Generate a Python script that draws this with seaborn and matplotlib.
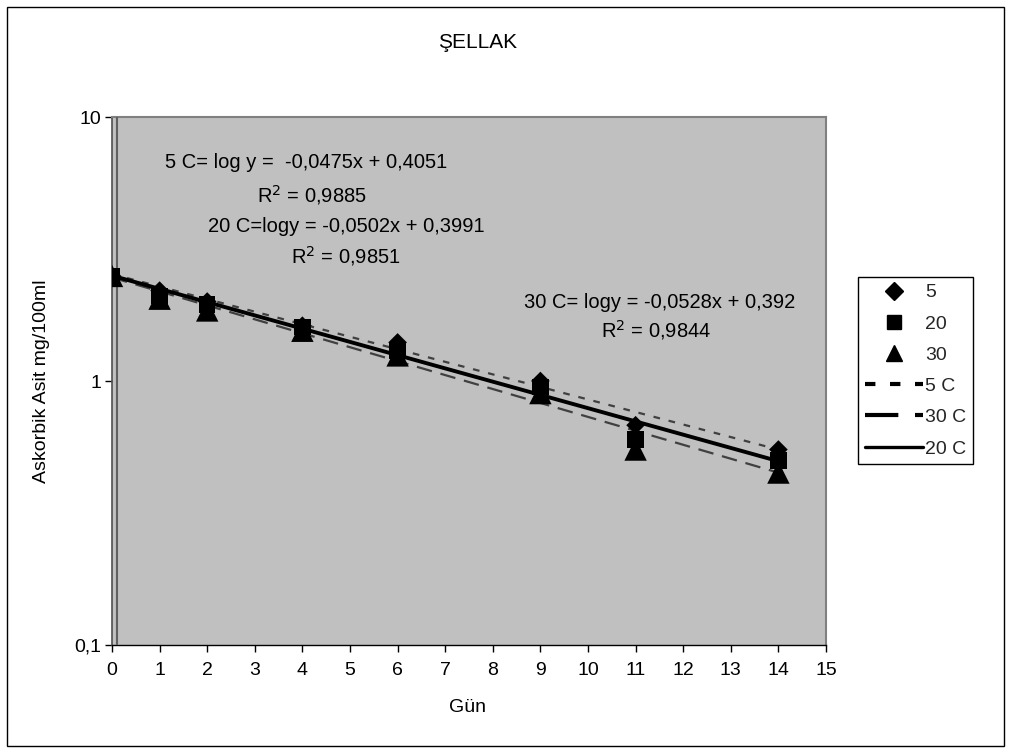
import numpy as np
import pandas as pd
import matplotlib
matplotlib.use("Agg")
import matplotlib.pyplot as plt
from matplotlib.patches import Rectangle
from matplotlib.lines import Line2D
from matplotlib.ticker import FixedLocator, FixedFormatter, NullLocator
import seaborn as sns

# ---- data ----
days = [0, 1, 2, 4, 6, 9, 11, 14]
s5 = [2.5, 2.2, 2.0, 1.62, 1.4, 1.0, 0.68, 0.55]
s20 = [2.5, 2.1, 1.95, 1.6, 1.3, 0.95, 0.60, 0.50]
s30 = [2.5, 2.05, 1.85, 1.55, 1.25, 0.9, 0.55, 0.45]
series_names = ["5", "20", "30"]
trend_names = ["5 C", "20 C", "30 C"]
trend_slope = [-0.0475, -0.0502, -0.0528]
trend_icpt = [0.4051, 0.3991, 0.392]
trend_r2 = ["0,9885", "0,9851", "0,9844"]
x_ticks = list(range(0, 16))
y_ticks = [0.1, 1, 10]
y_ticklabels = ["0,1", "1", "10"]

sns.set_theme(style="white")
plt.rcParams["font.family"] = ["Liberation Sans", "DejaVu Sans"]

FS = 14
fig = plt.figure(figsize=(10.12, 7.55), dpi=100)
W, H = 1012, 755
ax = fig.add_axes([112 / W, 1 - 645 / H, (826 - 112) / W, (645 - 117) / H])
ax.set_facecolor("#C0C0C0")

pts = pd.DataFrame({
    "Gün": days * 3,
    "val": s5 + s20 + s30,
    "seri": sum([[n] * len(days) for n in series_names], []),
})

# trendlines
xs = np.array([0, 14])
rows = []
for n, m, b in zip(trend_names, trend_slope, trend_icpt):
    for x in xs:
        rows.append({"Gün": x, "val": 10 ** (b + m * x), "seri": n})
tr = pd.DataFrame(rows)

sns.lineplot(data=tr[tr.seri == "5 C"], x="Gün", y="val", ax=ax, color="#404040",
             lw=1.6, legend=False).lines[-1].set_dashes([3, 4])
sns.lineplot(data=tr[tr.seri == "30 C"], x="Gün", y="val", ax=ax, color="#404040",
             lw=1.6, legend=False).lines[-1].set_dashes([7, 4])

sns.scatterplot(data=pts, x="Gün", y="val", hue="seri", style="seri",
                markers={"5": "D", "20": "s", "30": "^"},
                palette={"5": "black", "20": "black", "30": "black"},
                ax=ax, legend=False, edgecolor="black", linewidth=0, zorder=4)
coll = ax.collections[-1]
sizes = [90] * len(days) + [140] * len(days) + [260] * len(days)
coll.set_sizes(sizes)

sns.lineplot(data=tr[tr.seri == "20 C"], x="Gün", y="val", ax=ax, color="black",
             lw=2.8, legend=False, zorder=5)

ax.axvline(0.1, color="#606060", lw=1.5, zorder=3)

ax.set_yscale("log")
ax.set_xlim(0, 15)
ax.set_ylim(0.1, 10)
ax.yaxis.set_major_locator(FixedLocator(y_ticks))
ax.yaxis.set_major_formatter(FixedFormatter(y_ticklabels))
ax.yaxis.set_minor_locator(NullLocator())
ax.set_xticks(x_ticks)
ax.set_xticklabels([str(t) for t in x_ticks])
ax.tick_params(axis="both", which="major", direction="out", length=5, width=1,
               color="black", labelsize=FS, labelcolor="black", bottom=True, left=True)
ax.tick_params(axis="x", pad=7)
ax.tick_params(axis="y", pad=3)
ax.set_xlabel("")
ax.set_ylabel("")
for side in ["top", "right"]:
    ax.spines[side].set_color("#808080")
    ax.spines[side].set_linewidth(1.5)
ax.spines["left"].set_color("#505050")
ax.spines["left"].set_linewidth(1.2)
ax.spines["bottom"].set_color("black")
ax.spines["bottom"].set_linewidth(1)

fig.text(468 / W, 1 - 708 / H, "Gün", ha="center", va="center", fontsize=FS, color="black")
fig.text(42 / W, 1 - 381 / H, "Askorbik Asit mg/100ml", ha="center", va="center",
         rotation=90, fontsize=FS, color="black")

fig.text(478 / W, 1 - 42 / H, "ŞELLAK", ha="center", va="center", fontsize=15, color="black")

def ann(x, y, s):
    fig.text(x / W, 1 - y / H, s, ha="center", va="center", fontsize=FS + 0.5, color="black")

ann(306, 163, "5 C= log y =  -0,0475x + 0,4051")
ann(312, 195, "R$^2$ = " + trend_r2[0])
ann(346, 226, "20 C=logy = -0,0502x + 0,3991")
ann(346, 256, "R$^2$ = " + trend_r2[1])
ann(660, 303, "30 C= logy = -0,0528x + 0,392")
ann(656, 330, "R$^2$ = " + trend_r2[2])

handles = [
    Line2D([], [], ls="none", marker="D", color="black", markersize=9),
    Line2D([], [], ls="none", marker="s", color="black", markersize=10),
    Line2D([], [], ls="none", marker="^", color="black", markersize=11),
    Line2D([], [], color="black", lw=3, dashes=[2.5, 3.5]),
    Line2D([], [], color="black", lw=3, dashes=[8, 4]),
    Line2D([], [], color="black", lw=2.4),
]
labels = series_names + ["5 C", "30 C", "20 C"]
leg = fig.legend(handles, labels, loc="upper left",
                 bbox_to_anchor=(858 / W, 1 - 277 / H), fontsize=FS,
                 frameon=True, fancybox=False, edgecolor="black", framealpha=1,
                 borderpad=0.35, labelspacing=0.7, handlelength=3.0,
                 handletextpad=0.1, borderaxespad=0)
leg.get_frame().set_linewidth(1)

fig.patches.append(Rectangle((7 / W, 1 - 746 / H), (1004 - 7) / W, (746 - 7) / H,
                             transform=fig.transFigure, fill=False, ec="black", lw=1))

fig.savefig("out.png", dpi=100)
